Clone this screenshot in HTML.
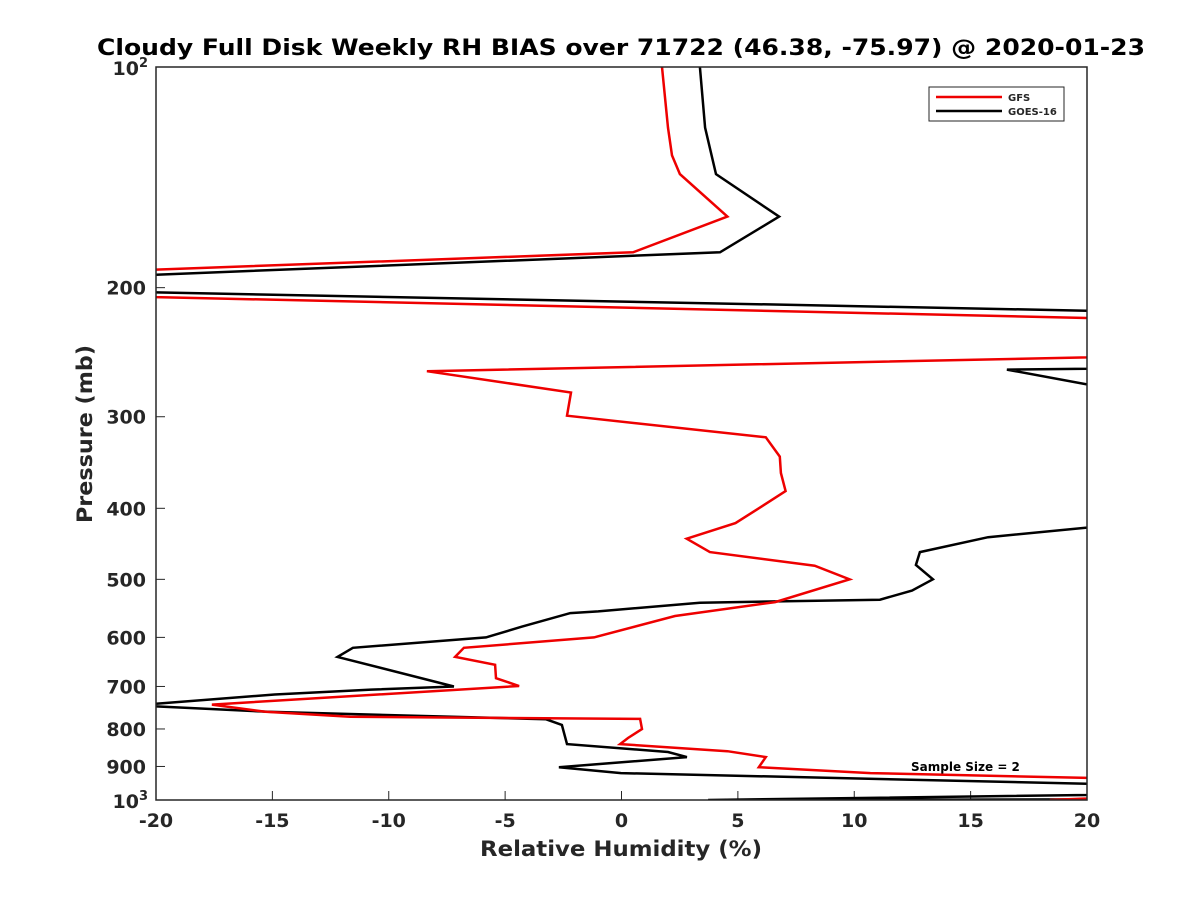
<!DOCTYPE html>
<html><head><meta charset="utf-8"><style>
body{margin:0;background:#fff}
text{font-family:"DejaVu Sans","Liberation Sans",sans-serif;font-weight:bold;fill:#262626}
</style></head><body>
<svg id="chart" width="1200" height="900" xmlns="http://www.w3.org/2000/svg">
<defs><clipPath id="clip"><rect x="156" y="67" width="931" height="733"/></clipPath></defs>
<rect width="1200" height="900" fill="#fff"/>
<text x="97" y="55" textLength="1048" lengthAdjust="spacingAndGlyphs" font-size="22" style="fill:#000">Cloudy Full Disk Weekly RH BIAS over 71722 (46.38, -75.97) @ 2020-01-23</text>
<g id="axes"></g>
<g id="series" clip-path="url(#clip)"></g>
<rect x="156" y="67" width="931" height="733" fill="none" stroke="#262626" stroke-width="1.5"/>
<text x="480" y="856" textLength="282" lengthAdjust="spacingAndGlyphs" font-size="21">Relative Humidity (%)</text>
<text transform="translate(92,523) rotate(-90)" textLength="178" lengthAdjust="spacingAndGlyphs" font-size="21">Pressure (mb)</text>
<g>
<rect x="929" y="87" width="135" height="34" fill="#fff" stroke="#262626" stroke-width="1"/>
<line x1="936" y1="97" x2="1002" y2="97" stroke="#e00" stroke-width="2.5"/>
<text x="1008" y="101" font-size="10">GFS</text>
<line x1="936" y1="111" x2="1002" y2="111" stroke="#000" stroke-width="2.5"/>
<text x="1008" y="115" font-size="10">GOES-16</text>
</g>
<text x="911" y="771" font-size="12" style="fill:#000">Sample Size = 2</text>
</svg>
<script>
const xTicks=[-20,-15,-10,-5,0,5,10,15,20];
const yTicks=[200,300,400,500,600,700,800,900];
const gfsRH=[1.74,2.0,2.17,2.51,4.55,0.5,-20,-30,-20,20,30,20,-8.36,-2.17,-2.34,6.2,6.8,6.85,7.05,5.9,4.9,2.8,3.8,8.3,9.8,6.6,2.3,-1.18,-6.77,-7.15,-5.43,-5.39,-4.4,-17.6,-15.3,-11.66,0.8,0.88,0.28,-0.06,4.55,6.2,5.9,10.7,20,30,18.4,20];
const gfsP=[100,121,132,140,160,179,189,198,206,220,235,249,260,278,299,320,340,358,379,400,419,440,459,479,500,537,561,600,620,638,654,682,699,741,758,770,775,800,823,839,858,874,902,919,933,965,1000,1000];
const goesRH=[3.37,3.59,4.06,6.77,4.23,-20,-30,-20,20,30,20,16.56,20,30,20,15.75,12.82,12.65,13.38,12.48,11.1,3.37,-1.0,-2.2,-4.27,-5.82,-11.54,-12.2,-7.2,-10.76,-14.9,-20,-22,-15.2,-3.24,-2.56,-2.34,2.0,2.81,-2.69,-0.02,20,30,3.72,20];
const goesP=[100,121,140,160,179,192,198,203,215,235,258,258.7,271,350,425,438,459,478,500,518,533,538,553,556,580,600,620,638,700,707,718,739,740,758,776,790,839,860,874,902,919,950,975,1000,998];
const NS="http://www.w3.org/2000/svg";
const X=v=>156+(v+20)*931/40;
const Y=p=>67+Math.log10(p/100)*733;
const axes=document.getElementById('axes'),ser=document.getElementById('series');
function mk(t,a,parent){const e=document.createElementNS(NS,t);for(const k in a)e.setAttribute(k,a[k]);parent.appendChild(e);return e;}
xTicks.forEach(v=>{
 const l=mk('line',{x1:X(v),x2:X(v),y1:800,y2:791,stroke:'#262626','stroke-width':1},axes);
 
 
 const t=mk('text',{x:X(v),y:827,'text-anchor':'middle','font-size':19},axes);t.textContent=v;
 
 
});
yTicks.forEach(p=>{
 const l=mk('line',{x1:156,x2:165,y1:Y(p),y2:Y(p),stroke:'#262626','stroke-width':1},axes);
 
 
 const t=mk('text',{x:146,y:Y(p)+7,'text-anchor':'end','font-size':19},axes);t.textContent=p;
 
 
});
[[100,"2"],[1000,"3"]].forEach(([p,e])=>{
 const t=mk('text',{x:148,y:Y(p)+8,'text-anchor':'end','font-size':19},axes);
 t.innerHTML='10<tspan dy="-8" font-size="13">'+e+'</tspan>';
 
 
});
function line(rh,p,c,name){
 const d=rh.map((v,i)=>(i?'L':'M')+X(v).toFixed(1)+','+Y(p[i]).toFixed(1)).join('');
 const e=mk('path',{d:d,fill:'none',stroke:c,'stroke-width':2.5,'stroke-linejoin':'miter'},ser);
 
 
}
line(goesRH,goesP,'#000','goes16-line');
line(gfsRH,gfsP,'#e00','gfs-line');
</script>
</body></html>
